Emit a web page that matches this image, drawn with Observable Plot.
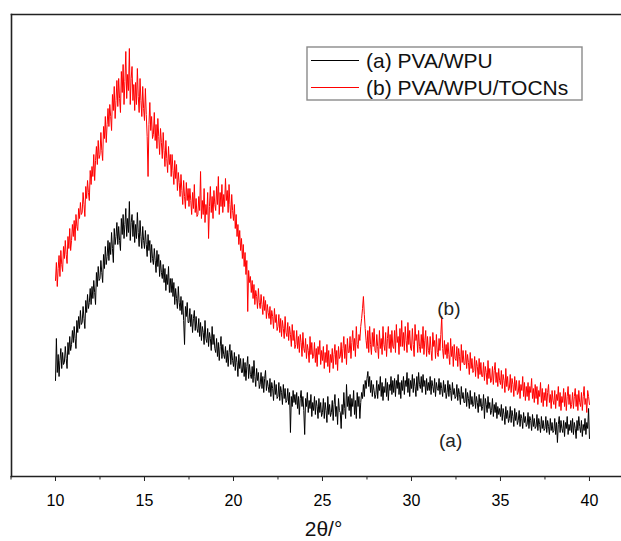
<!DOCTYPE html>
<html><head><meta charset="utf-8">
<script src="https://cdn.jsdelivr.net/npm/d3@7"></script>
<script src="https://cdn.jsdelivr.net/npm/@observablehq/plot@0.6"></script>
<style>
html,body{margin:0;padding:0;background:#fff;overflow:hidden}
#chart svg{display:block}
</style></head><body><div id="chart"></div>
<script>
// ---- data (intensity in arbitrary units) ----
const seriesNames = ["(a) PVA/WPU", "(b) PVA/WPU/TOCNs"];
const seriesColors = ["#000000", "#ff0000"];
const xTicks = [10, 15, 20, 25, 30, 35, 40];
const xMinorTicks = [7.5, 12.5, 17.5, 22.5, 27.5, 32.5, 37.5];
const xLabel = "2θ/°";
const angleStart = 10;    // first sampled 2θ
const angleStep = 0.05;   // sampling step of 2θ

// (a) PVA/WPU, 2θ = 10.00 ... 40.00 (one row = 0.5°)
const intensityA = [
 96,138,104,122,100,116,128,108,124,112,
 114,130,118,108,134,122,140,126,132,146,
 134,150,138,128,156,144,160,148,166,152,
 154,170,158,148,176,164,182,168,174,188,
 172,190,178,196,184,172,204,190,210,196,
 198,216,204,194,222,208,230,212,220,236,
 216,234,222,244,228,214,248,232,240,254,
 232,250,236,226,258,242,262,238,252,268,
 240,258,244,275,236,254,262,240,256,234,
 252,238,264,244,230,256,240,228,250,236,
 228,246,232,220,242,226,236,214,232,218,
 212,228,216,204,226,210,222,200,216,204,
 198,212,194,208,186,202,192,210,184,198,
 184,198,180,194,172,188,178,168,190,174,
 166,180,162,176,156,132,170,160,174,154,
 154,168,150,162,144,158,166,146,160,148,
 144,158,140,154,136,150,144,132,156,138,
 134,148,130,144,138,126,150,132,142,128,
 124,138,120,134,116,130,140,118,132,122,
 118,130,114,126,110,124,132,112,126,116,
 110,124,106,120,114,100,122,108,118,104,
 104,118,100,114,96,110,120,98,112,102,
 98,110,94,116,100,90,108,96,104,88,
 92,104,88,100,84,98,106,86,96,90,
 84,98,80,94,88,76,96,82,92,78,
 80,94,76,90,84,72,92,78,88,74,
 76,88,72,84,44,80,70,86,74,82,
 72,84,68,80,62,78,86,70,80,66,
 42,78,70,84,64,76,68,82,60,74,
 66,80,62,76,70,58,78,64,74,60,
 64,78,58,74,66,54,80,62,72,60,
 64,76,56,72,82,60,70,52,78,66,
 64,48,72,62,84,68,58,92,70,80,
 66,82,60,78,70,86,62,76,58,84,
 70,80,58,74,84,78,92,80,96,88,
 98,105,90,100,84,96,80,92,86,78,
 82,96,78,92,86,100,80,94,76,90,
 84,98,80,94,76,92,86,100,82,96,
 84,98,80,96,88,102,82,94,78,96,
 86,100,82,96,90,104,84,98,80,96,
 88,102,84,98,90,80,100,86,104,92,
 88,100,84,102,90,96,82,98,86,94,
 86,100,82,96,90,84,98,80,94,88,
 86,98,82,94,88,80,96,84,92,78,
 84,96,80,92,86,76,94,82,88,78,
 80,92,76,88,82,72,90,78,84,74,
 74,88,70,84,78,68,86,72,80,70,
 72,84,68,80,74,64,82,70,78,66,
 70,82,58,78,72,64,80,68,74,62,
 66,78,60,72,64,74,58,70,62,68,
 60,72,56,68,62,52,70,58,66,54,
 58,70,54,66,60,50,68,56,64,52,
 56,66,50,62,58,48,64,54,60,50,
 52,64,48,60,56,46,62,50,58,48,
 50,62,46,58,52,44,60,48,56,46,
 48,60,44,56,50,42,58,46,54,44,
 46,58,42,54,34,52,60,44,56,48,
 44,56,40,54,48,60,42,52,46,56,
 44,58,42,54,48,38,56,46,60,50,
 44,56,40,52,46,58,42,54,48,68,
 38
];

// (b) PVA/WPU/TOCNs, 2θ = 10.00 ... 40.00 (one row = 0.5°)
const intensityB = [
 196,214,190,208,221,200,226,212,205,230,
 218,236,222,213,240,228,248,226,236,252,
 240,256,236,262,250,246,268,258,274,262,
 264,284,272,260,290,278,296,284,276,306,
 292,310,300,322,296,316,330,312,336,318,
 322,344,326,316,350,338,360,334,352,368,
 350,372,360,346,382,366,390,358,376,396,
 370,398,378,364,405,384,412,372,395,425,
 378,402,386,428,372,398,410,376,392,366,
 394,372,408,380,364,398,376,360,390,368,
 356,388,362,340,300,352,374,346,360,338,
 342,364,336,352,328,358,340,322,348,334,
 318,344,326,310,336,318,304,330,312,322,
 300,322,306,292,316,298,312,286,304,294,
 280,302,286,272,296,280,268,294,276,288,
 270,288,276,262,284,268,292,264,278,260,
 262,280,266,305,258,276,262,288,254,272,
 262,284,238,270,290,264,280,258,286,272,
 266,290,272,300,262,284,270,292,264,282,
 270,298,276,286,264,292,272,258,282,266,
 256,272,248,262,240,252,232,246,226,238,
 218,232,210,224,202,216,165,206,194,200,
 184,196,178,192,172,186,180,168,188,174,
 168,182,172,162,180,166,176,158,172,164,
 158,170,152,166,160,148,168,154,162,146,
 150,162,144,158,140,156,148,138,160,144,
 140,154,136,150,142,130,152,136,146,128,
 132,146,128,140,124,142,134,120,144,128,
 124,138,118,132,126,114,140,122,134,118,
 120,134,114,128,110,130,122,136,112,126,
 116,130,108,124,114,132,110,126,104,122,
 114,128,108,122,132,112,126,106,130,118,
 120,134,114,128,140,118,132,112,138,124,
 124,140,118,134,146,126,138,120,150,132,
 128,142,136,150,158,168,180,162,148,136,
 128,146,124,150,132,122,144,130,148,126,
 124,142,130,118,146,128,138,122,150,132,
 126,144,120,138,150,128,142,124,146,130,
 128,146,124,152,134,140,122,148,130,156,
 130,144,126,150,136,124,154,132,146,128,
 126,148,132,120,152,136,142,124,146,130,
 124,142,128,150,122,136,146,120,140,126,
 122,140,126,116,144,130,136,118,142,124,
 120,138,126,142,160,128,118,136,122,132,
 118,134,122,112,138,120,130,110,132,118,
 116,130,110,128,120,106,132,114,126,112,
 112,126,108,122,114,102,124,108,118,104,
 106,120,100,116,110,98,118,102,114,100,
 100,114,96,110,104,92,116,98,108,94,
 96,110,92,106,114,94,104,90,108,96,
 92,106,88,102,96,84,108,90,100,86,
 88,102,84,98,92,80,100,86,96,82,
 84,96,78,92,86,100,80,94,76,90,
 80,94,76,90,84,98,78,88,74,92,
 78,90,72,86,80,94,74,88,70,84,
 76,88,70,84,92,74,82,68,86,76,
 72,86,68,82,76,90,70,84,66,80,
 74,88,70,84,66,80,90,72,82,68,
 72,84,68,80,88,70,82,66,86,74,
 70,84,66,80,90,72,78,64,86,80,
 72
];

const annotations = [
  {label: "(b)", theta: 32.1, value: 168},
  {label: "(a)", theta: 32.2, value: 36}
];

// ---- build tables ----
const toRows = (arr) => arr.map((v, i) => ({theta: angleStart + i * angleStep, value: v}));
const rowsA = toRows(intensityA);
const rowsB = toRows(intensityB);

const font = "'Liberation Sans', Arial, Helvetica, sans-serif";

const chart = Plot.plot({
  width: 621,
  height: 541,
  marginLeft: 11,
  marginRight: 0,
  marginTop: 14,
  marginBottom: 65,
  style: {fontFamily: font, fontSize: "16px", color: "#000", background: "#fff", overflow: "visible"},
  x: {domain: [7.528, 41.8]},
  y: {domain: [0, 462], axis: null},
  marks: [
    Plot.line(rowsA, {x: "theta", y: "value", stroke: seriesColors[0], strokeWidth: 1}),
    Plot.line(rowsB, {x: "theta", y: "value", stroke: seriesColors[1], strokeWidth: 1}),
    Plot.text(annotations, {x: "theta", y: "value", text: "label", fontSize: 19, fill: "#222"}),
    Plot.axisX({anchor: "bottom", ticks: xMinorTicks, tickSize: 3.5, tickFormat: () => "", label: null, stroke: "#222"}),
    Plot.axisX({anchor: "bottom", ticks: xTicks, tickSize: 5, tickPadding: 13, fontSize: 16, label: null, stroke: "#222"}),
    Plot.frame({anchor: "top", stroke: "#222", strokeWidth: 1.6}),
    Plot.frame({anchor: "left", stroke: "#222", strokeWidth: 1.6}),
    Plot.frame({anchor: "bottom", stroke: "#222", strokeWidth: 1.6}),
    Plot.text([xLabel], {frameAnchor: "bottom", dy: 53, dx: 7, fontSize: 21, lineAnchor: "middle", fill: "#111"})
  ]
});

document.getElementById("chart").appendChild(chart);

// ---- legend box (drawn into the same SVG) ----
const svg = d3.select(chart);
const lg = svg.append("g");
lg.append("rect").attr("x", 307).attr("y", 47).attr("width", 275).attr("height", 53)
  .attr("fill", "#fff").attr("stroke", "#8a8a8a").attr("stroke-width", 1.4);
seriesNames.forEach((name, i) => {
  const cy = 60.5 + i * 27;
  lg.append("line").attr("x1", 311).attr("x2", 359).attr("y1", cy).attr("y2", cy)
    .attr("stroke", seriesColors[i]).attr("stroke-width", 1);
  lg.append("text").attr("x", 366).attr("y", cy).attr("dy", "0.36em")
    .attr("fill", "#111")
    .style("font-family", font).style("font-size", "21px").style("text-anchor", "start")
    .text(name);
});
</script>
</body></html>
